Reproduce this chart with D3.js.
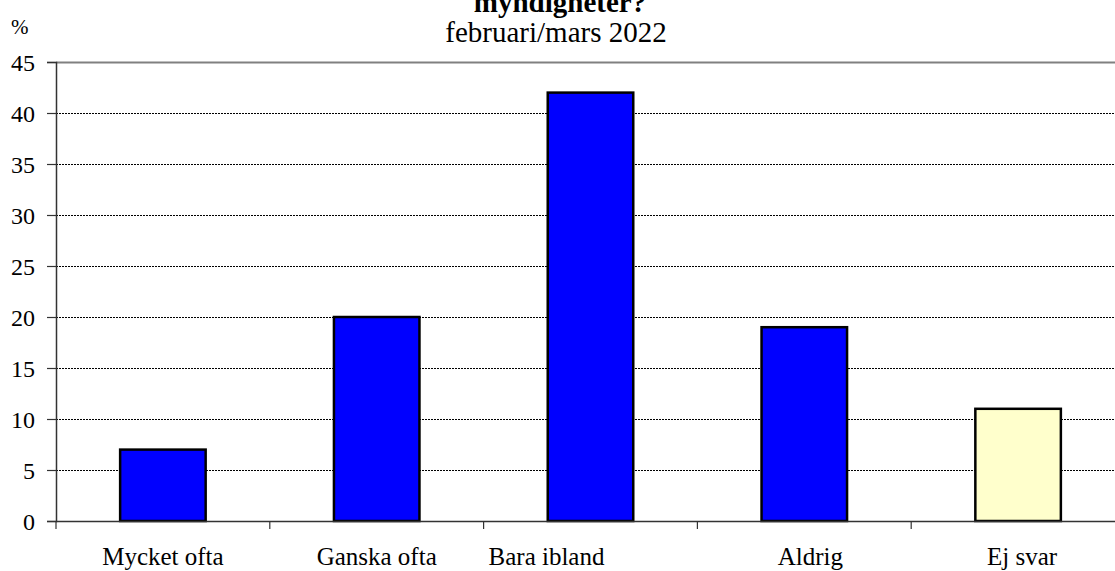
<!DOCTYPE html>
<html>
<head>
<meta charset="utf-8">
<script src="https://cdn.jsdelivr.net/npm/d3@7"></script>
<style>
  body { margin: 0; background: #fff; }
  text { font-family: "Liberation Serif", "Times New Roman", serif; fill: #000; }
</style>
</head>
<body>
<script>
// data
const categories = ["Mycket ofta", "Ganska ofta", "Bara ibland", "Aldrig", "Ej svar"];
const values = [7, 20, 42, 19, 11];
const barColors = ["#0000ff", "#0000ff", "#0000ff", "#0000ff", "#ffffcc"];
const yTicks = [0, 5, 10, 15, 20, 25, 30, 35, 40, 45];
const titleText = "myndigheter?";
const subtitleText = "februari/mars 2022";

const W = 1115, H = 571;
const margin = { top: 62, left: 56 };
const plotBottom = 521;
const step = 213.8;

const svg = d3.select("body").append("svg")
    .attr("width", W)
    .attr("height", H);

// x band runs past the right edge, like the original crop
const x = d3.scaleBand()
    .domain(categories)
    .range([margin.left, margin.left + categories.length * step])
    .paddingInner(0.6)
    .paddingOuter(0.3);

const y = d3.scaleLinear().domain([0, 45]).range([plotBottom, margin.top]);

// gridlines
svg.append("g")
  .selectAll("line")
  .data(yTicks.filter(d => d > 0 && d < 45))
  .enter().append("line")
    .attr("x1", margin.left).attr("x2", W)
    .attr("y1", d => y(d) + 0.5).attr("y2", d => y(d) + 0.5)
    .attr("stroke", "#000")
    .attr("stroke-width", 1)
    .attr("stroke-dasharray", "2,1");

// top border at 45
svg.append("line")
    .attr("x1", margin.left).attr("x2", W)
    .attr("y1", y(45) + 0.5).attr("y2", y(45) + 0.5)
    .attr("stroke", "#808080")
    .attr("stroke-width", 2);

// bars
svg.append("g")
  .selectAll("rect")
  .data(values)
  .enter().append("rect")
    .attr("x", (d, i) => x(categories[i]))
    .attr("y", d => y(d))
    .attr("width", x.bandwidth())
    .attr("height", d => plotBottom - y(d))
    .attr("fill", (d, i) => barColors[i])
    .attr("stroke", "#000")
    .attr("stroke-width", 2.5);

// y axis
const yAxis = svg.append("g")
    .attr("transform", `translate(${margin.left}, 0)`)
    .call(d3.axisLeft(y).tickValues(yTicks).tickSize(9).tickPadding(12));
yAxis.select(".domain").attr("stroke", "#333").attr("stroke-width", 1.5);
yAxis.selectAll(".tick line").attr("stroke", "#333").attr("stroke-width", 1.2);
yAxis.selectAll("text")
    .style("font-family", "'Liberation Serif', serif")
    .style("font-size", "24px")
    .attr("dy", "0.34em")
    .attr("fill", "#000");

// x axis line and tick marks
svg.append("line")
    .attr("x1", margin.left).attr("x2", W)
    .attr("y1", plotBottom + 0.5).attr("y2", plotBottom + 0.5)
    .attr("stroke", "#333")
    .attr("stroke-width", 1.5);

svg.append("g")
  .selectAll("line")
  .data(d3.range(0, categories.length + 1))
  .enter().append("line")
    .attr("x1", i => margin.left + i * step).attr("x2", i => margin.left + i * step)
    .attr("y1", plotBottom).attr("y2", plotBottom + 8)
    .attr("stroke", "#333")
    .attr("stroke-width", 1.2);

// x labels (Excel puts a couple slightly off centre)
const labelShift = { "Bara ibland": -44, "Aldrig": 6, "Ej svar": 4 };
svg.append("g")
  .selectAll("text")
  .data(categories)
  .enter().append("text")
    .attr("x", d => x(d) + x.bandwidth() / 2 + (labelShift[d] || 0))
    .attr("y", 565)
    .attr("text-anchor", "middle")
    .style("font-size", "25px")
    .text(d => d);

// titles (main title is cut by the top edge in the original)
svg.append("text")
    .attr("x", 560).attr("y", 12)
    .attr("text-anchor", "middle")
    .style("font-size", "29px")
    .style("font-weight", "bold")
    .text(titleText);

svg.append("text")
    .attr("x", 556).attr("y", 42)
    .attr("text-anchor", "middle")
    .style("font-size", "29px")
    .text(subtitleText);

svg.append("text")
    .attr("x", 11).attr("y", 34)
    .style("font-size", "21px")
    .text("%");
</script>
</body>
</html>
